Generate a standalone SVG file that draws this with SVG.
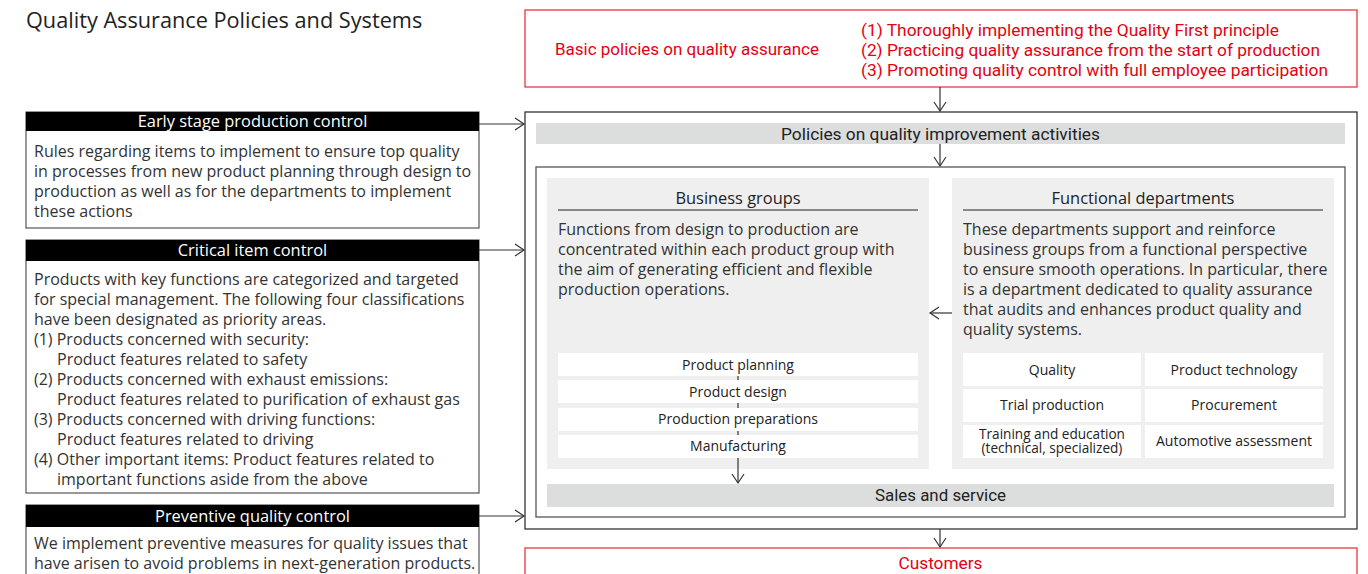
<svg xmlns="http://www.w3.org/2000/svg" width="1368" height="574" viewBox="0 0 1368 574">
<defs>
<marker id="ah" viewBox="-10 -7 12 14" markerWidth="12" markerHeight="14" refX="0" refY="0" orient="auto" markerUnits="userSpaceOnUse">
<path d="M-9,-6 L0,0 L-9,6" fill="none" stroke="#333" stroke-width="1.2"/>
</marker>
<style>
text{font-family:"Open Sans","Noto Sans","Liberation Sans",sans-serif;fill:#333}
.title{font-size:21.7px;fill:#222}
.red{font-family:Roboto,"Liberation Sans",sans-serif;font-size:16px;fill:#e60012}
.cond{font-family:Roboto,"Liberation Sans",sans-serif;font-size:16px;fill:#222}
.hd{font-size:16.4px;fill:#fff;text-anchor:middle}
.body{font-size:16px}
.ph{font-size:16.4px;fill:#222;text-anchor:middle}
.sm{font-size:14px;fill:#222;text-anchor:middle}
.sm2{font-size:13.6px;fill:#222;text-anchor:middle}
.mid{text-anchor:middle}
.redbox{fill:#fff;stroke:#e8383d;stroke-width:1.3}
.lbox{fill:#fff;stroke:#555;stroke-width:1.2}
.black{fill:#000}
.bar{fill:#dcdddd}
.panel{fill:#efefef}
.wbox{fill:#fff}
.conn{stroke:#333;stroke-width:1.2;fill:none}
</style>
</defs>

<text class="title" x="26" y="28">Quality Assurance Policies and Systems</text>

<g id="basic-policies">
<rect class="redbox" x="525" y="10" width="832" height="77"/>
<text class="red" x="555" y="55" textLength="264" lengthAdjust="spacingAndGlyphs">Basic policies on quality assurance</text>
<text class="red" x="861" y="36" textLength="418" lengthAdjust="spacingAndGlyphs">(1) Thoroughly implementing the Quality First principle</text>
<text class="red" x="861" y="56" textLength="459" lengthAdjust="spacingAndGlyphs">(2) Practicing quality assurance from the start of production</text>
<text class="red" x="861" y="76" textLength="467" lengthAdjust="spacingAndGlyphs">(3) Promoting quality control with full employee participation</text>
</g>

<g id="early-stage">
<rect class="lbox" x="26" y="112" width="453" height="116"/>
<rect class="black" x="26" y="112" width="453" height="19"/>
<text class="hd" x="252.5" y="127">Early stage production control</text>
<text class="body" x="34" y="157">Rules regarding items to implement to ensure top quality</text>
<text class="body" x="34" y="177">in processes from new product planning through design to</text>
<text class="body" x="34" y="197">production as well as for the departments to implement</text>
<text class="body" x="34" y="217">these actions</text>
</g>

<g id="critical-item">
<rect class="lbox" x="26" y="240" width="453" height="253"/>
<rect class="black" x="26" y="240" width="453" height="21"/>
<text class="hd" x="252.5" y="256">Critical item control</text>
<text class="body" x="34" y="285">Products with key functions are categorized and targeted</text>
<text class="body" x="34" y="305">for special management. The following four classifications</text>
<text class="body" x="34" y="325">have been designated as priority areas.</text>
<text class="body" x="34" y="345">(1) Products concerned with security:</text>
<text class="body" x="57" y="365">Product features related to safety</text>
<text class="body" x="34" y="385">(2) Products concerned with exhaust emissions:</text>
<text class="body" x="57" y="405">Product features related to purification of exhaust gas</text>
<text class="body" x="34" y="425">(3) Products concerned with driving functions:</text>
<text class="body" x="57" y="445">Product features related to driving</text>
<text class="body" x="34" y="465">(4) Other important items: Product features related to</text>
<text class="body" x="57" y="485">important functions aside from the above</text>
</g>

<g id="preventive">
<rect class="lbox" x="26" y="505" width="453" height="80"/>
<rect class="black" x="26" y="505" width="453" height="22"/>
<text class="hd" x="252.5" y="522">Preventive quality control</text>
<text class="body" x="34" y="549">We implement preventive measures for quality issues that</text>
<text class="body" x="34" y="569">have arisen to avoid problems in next-generation products.</text>
</g>

<g id="quality-system">
<rect x="525" y="112" width="832" height="417" fill="#fff" stroke="#333" stroke-width="1.3"/>
</g>

<g id="policies-improvement">
<rect class="bar" x="536" y="123" width="809" height="21"/>
<text class="cond mid" x="940.5" y="139.5" textLength="319" lengthAdjust="spacingAndGlyphs">Policies on quality improvement activities</text>
</g>

<g id="organization">
<rect x="536" y="167" width="809" height="350" fill="#fff" stroke="#555" stroke-width="1.3"/>
</g>

<g id="business-groups">
<rect class="panel" x="547" y="178" width="382" height="291"/>
<text class="ph" x="738" y="204">Business groups</text>
<line x1="558" y1="210" x2="918" y2="210" stroke="#222" stroke-width="1.2"/>
<text class="body" x="558" y="235">Functions from design to production are</text>
<text class="body" x="558" y="255">concentrated within each product group with</text>
<text class="body" x="558" y="275">the aim of generating efficient and flexible</text>
<text class="body" x="558" y="295">production operations.</text>
<g id="product-planning"><rect class="wbox" x="558" y="353" width="360" height="23"/><text class="sm" x="738" y="370">Product planning</text></g>
<g id="product-design"><rect class="wbox" x="558" y="380" width="360" height="23"/><text class="sm" x="738" y="397">Product design</text></g>
<g id="production-preparations"><rect class="wbox" x="558" y="408" width="360" height="23"/><text class="sm" x="738" y="424">Production preparations</text></g>
<g id="manufacturing"><rect class="wbox" x="558" y="435" width="360" height="23"/><text class="sm" x="738" y="451">Manufacturing</text></g>
</g>

<g id="functional-departments">
<rect class="panel" x="952" y="178" width="382" height="291"/>
<text class="ph" x="1143" y="204">Functional departments</text>
<line x1="963" y1="210" x2="1323" y2="210" stroke="#222" stroke-width="1.2"/>
<text class="body" x="963" y="235">These departments support and reinforce</text>
<text class="body" x="963" y="255">business groups from a functional perspective</text>
<text class="body" x="963" y="275">to ensure smooth operations. In particular, there</text>
<text class="body" x="963" y="295">is a department dedicated to quality assurance</text>
<text class="body" x="963" y="315">that audits and enhances product quality and</text>
<text class="body" x="963" y="335">quality systems.</text>
<g id="dept-quality"><rect class="wbox" x="963" y="353" width="178" height="33"/><text class="sm" x="1052" y="375">Quality</text></g>
<g id="dept-product-technology"><rect class="wbox" x="1145" y="353" width="178" height="33"/><text class="sm" x="1234" y="375">Product technology</text></g>
<g id="dept-trial-production"><rect class="wbox" x="963" y="389" width="178" height="33"/><text class="sm" x="1052" y="410">Trial production</text></g>
<g id="dept-procurement"><rect class="wbox" x="1145" y="389" width="178" height="33"/><text class="sm" x="1234" y="410">Procurement</text></g>
<g id="dept-training"><rect class="wbox" x="963" y="425" width="178" height="33"/><text class="sm2" x="1052" y="439">Training and education</text><text class="sm2" x="1052" y="453">(technical, specialized)</text></g>
<g id="dept-automotive-assessment"><rect class="wbox" x="1145" y="425" width="178" height="33"/><text class="sm" x="1234" y="446">Automotive assessment</text></g>
</g>

<g id="sales-service">
<rect class="bar" x="547" y="484" width="787" height="23"/>
<text class="cond mid" x="940.5" y="501" textLength="131" lengthAdjust="spacingAndGlyphs">Sales and service</text>
</g>

<g id="customers">
<rect class="redbox" x="525" y="548" width="832" height="40"/>
<text class="red mid" x="940.5" y="569" textLength="84" lengthAdjust="spacingAndGlyphs">Customers</text>
</g>

<g id="connectors">
<line class="conn" x1="940" y1="87" x2="940" y2="111" marker-end="url(#ah)"/>
<line class="conn" x1="940" y1="144" x2="940" y2="166" marker-end="url(#ah)"/>
<line class="conn" x1="479" y1="124" x2="524" y2="124" marker-end="url(#ah)"/>
<line class="conn" x1="479" y1="250" x2="524" y2="250" marker-end="url(#ah)"/>
<line class="conn" x1="479" y1="516" x2="524" y2="516" marker-end="url(#ah)"/>
<line class="conn" x1="952" y1="313" x2="930" y2="313" marker-end="url(#ah)"/>
<line class="conn" x1="738" y1="376" x2="738" y2="380"/>
<line class="conn" x1="738" y1="403" x2="738" y2="408"/>
<line class="conn" x1="738" y1="431" x2="738" y2="435"/>
<line class="conn" x1="738" y1="458" x2="738" y2="483" marker-end="url(#ah)"/>
<line class="conn" x1="940" y1="529" x2="940" y2="547" marker-end="url(#ah)"/>
</g>
</svg>
